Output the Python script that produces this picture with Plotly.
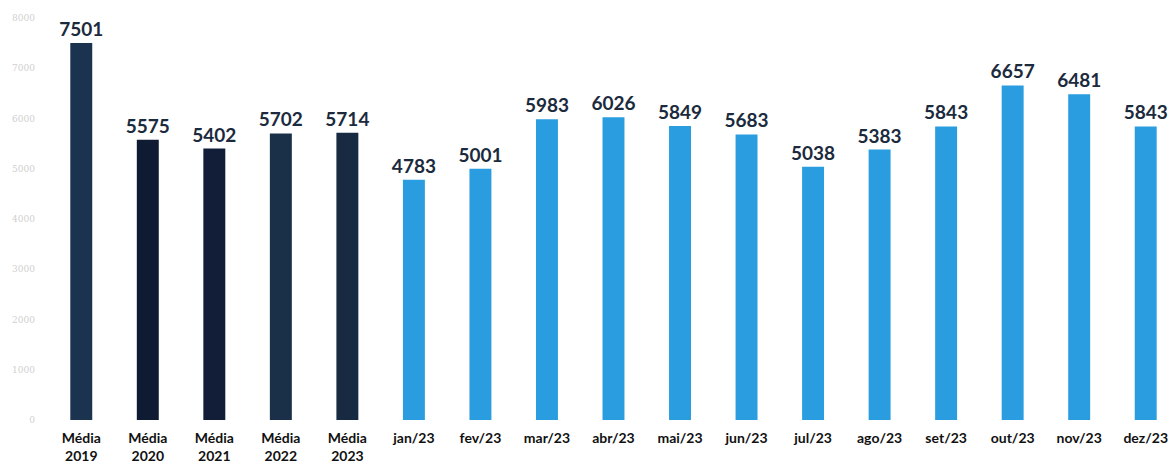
import plotly.graph_objects as go

categories = ["Média<br>2019", "Média<br>2020", "Média<br>2021", "Média<br>2022", "Média<br>2023",
              "jan/23", "fev/23", "mar/23", "abr/23", "mai/23", "jun/23", "jul/23",
              "ago/23", "set/23", "out/23", "nov/23", "dez/23"]
values = [7501, 5575, 5402, 5702, 5714, 4783, 5001, 5983, 6026, 5849, 5683, 5038,
          5383, 5843, 6657, 6481, 5843]
dark_colors = ["#1c3350", "#0f1a33", "#121e38", "#1a3048", "#172a42"]
light_color = "#2a9de0"
colors = dark_colors + [light_color] * (len(categories) - len(dark_colors))
y_ticks = [0, 1000, 2000, 3000, 4000, 5000, 6000, 7000, 8000]

fig = go.Figure(go.Bar(
    x=list(range(len(categories))),
    y=values,
    marker=dict(color=colors, line=dict(width=0)),
    text=[str(v) for v in values],
    textposition="outside",
    textfont=dict(family="Lato", size=19, color="#1b2a3d", weight="bold"),
    constraintext="none",
    cliponaxis=False,
    width=0.33,
    hoverinfo="skip",
))

fig.update_layout(
    width=1169, height=466,
    margin=dict(l=48, r=0, t=18, b=46, autoexpand=False),
    plot_bgcolor="white", paper_bgcolor="white",
    showlegend=False,
    xaxis=dict(
        tickmode="array",
        tickvals=list(range(len(categories))),
        ticktext=categories,
        range=[-0.5, 16.35],
        showgrid=False, zeroline=False, showline=False,
        tickfont=dict(family="Lato", size=14, color="#111111", weight="bold"),
        ticks="", ticklabelstandoff=8, automargin=False,
    ),
    yaxis=dict(
        range=[0, 8000],
        tickvals=y_ticks,
        ticktext=[str(t) for t in y_ticks],
        showgrid=False, zeroline=False, showline=False,
        tickfont=dict(family="DejaVu Serif", size=9, color="#cfcfcf"),
        ticks="", ticklabelstandoff=12, automargin=False,
    ),
)

fig.write_html("out.html", config={"displayModeBar": False},
               post_script="document.body.style.margin='0';document.body.style.overflow='hidden';")
